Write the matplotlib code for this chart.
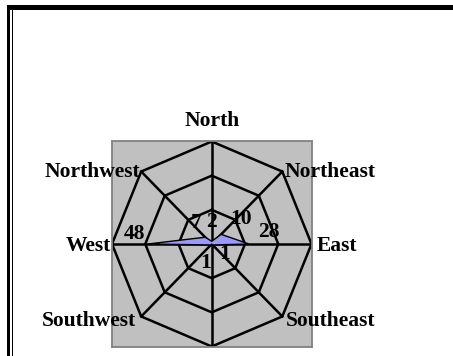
import numpy as np
import matplotlib
matplotlib.use("Agg")
import matplotlib.pyplot as plt
from matplotlib.patches import Rectangle

categories = ["North", "Northeast", "East", "Southeast",
              "South", "Southwest", "West", "Northwest"]
values = [2, 10, 28, 1, 0, 1, 48, 7]
rings = [25, 50, 75]

# text placement around the web (pixels): (dx, dy, ha)
cat_offsets = {
    "North": (0, 15, "center"),
    "Northeast": (2, -5, "left"),
    "East": (5, -7, "left"),
    "Southeast": (4, -10, "left"),
    "Southwest": (-5, -10, "right"),
    "West": (-1, -7, "right"),
    "Northwest": (-1.5, -5, "right"),
}
val_offsets = {
    "North": (0, 19), "Northeast": (20, 15), "East": (20, 12),
    "Southeast": (11.5, -9), "Southwest": (-5, -18),
    "West": (-13, 10), "Northwest": (-9, 14),
}

W, H = 453, 356
fig = plt.figure(figsize=(W / 100, H / 100), dpi=100)
font = dict(family="Liberation Serif", weight="bold", size=15.5, color="black")

# outer frame lines
fig.add_artist(Rectangle((7 / W, (H - 10) / H), (W - 7) / W, 5 / H,
                         transform=fig.transFigure, color="black", lw=0))
fig.add_artist(Rectangle((7 / W, 0), 3 / W, (H - 5) / H,
                         transform=fig.transFigure, color="black", lw=0))
fig.add_artist(Rectangle((11.6 / W, 0), 1.4 / W, (H - 8) / H,
                         transform=fig.transFigure, color="black", lw=0))

ax = fig.add_axes([112 / W, (H - 346.5) / H, 199.5 / W, 205 / H])
rmax = rings[-1]
ax.set_xlim(-rmax, rmax)
ax.set_ylim(-rmax, rmax)
ax.set_facecolor("#c0c0c0")
for s in ax.spines.values():
    s.set_color("#808080")
    s.set_linewidth(1.3)
ax.set_xticks([])
ax.set_yticks([])

n = len(categories)
theta = np.arange(n) * 2 * np.pi / n
sx, sy = np.sin(theta), np.cos(theta)

# grid: octagon rings and spokes
for r in rings:
    ax.plot(np.append(r * sx, r * sx[0]), np.append(r * sy, r * sy[0]),
            color="black", lw=1.8, zorder=2, solid_joinstyle="miter")
for i in range(n):
    ax.plot([0, rmax * sx[i]], [0, rmax * sy[i]], color="black", lw=1.8, zorder=2)

# data series
v = np.array(values, dtype=float)
ax.fill(v * sx, v * sy, facecolor="#9999ff", edgecolor="black", lw=1.0,
        joinstyle="miter", zorder=3)

for i, c in enumerate(categories):
    if values[i] and c in val_offsets:
        dx, dy = val_offsets[c]
        ax.annotate(str(values[i]), (values[i] * sx[i], values[i] * sy[i]),
                    xytext=(dx, dy), textcoords="offset pixels",
                    ha="center", va="center", zorder=5, **font)
    if c in cat_offsets:
        dx, dy, ha = cat_offsets[c]
        ax.annotate(c, (rmax * sx[i], rmax * sy[i]), xytext=(dx, dy),
                    textcoords="offset pixels", ha=ha, va="baseline",
                    annotation_clip=False, zorder=5, **font)

fig.savefig("out.png", dpi=100)
